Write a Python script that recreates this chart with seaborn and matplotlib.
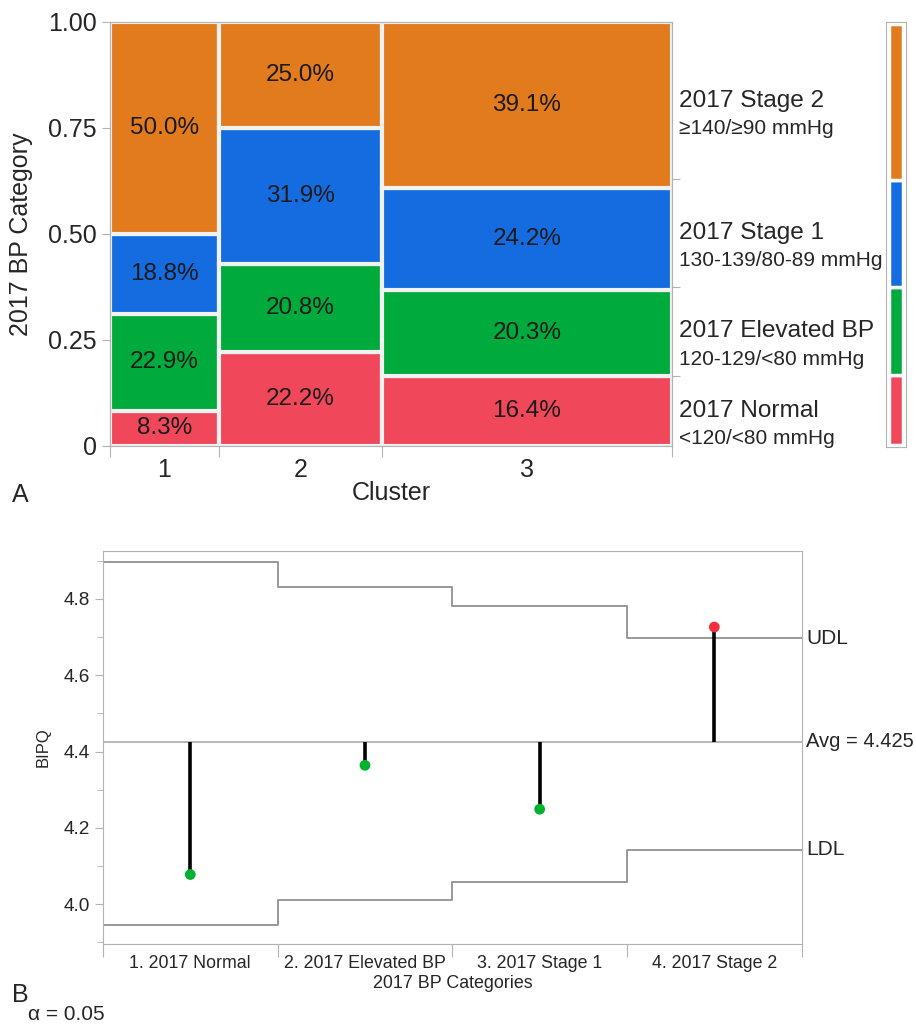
import numpy as np
import pandas as pd
import seaborn as sns
import matplotlib.pyplot as plt
from matplotlib.ticker import MultipleLocator

# ---- Panel A data: mosaic of BP category by cluster ----
clusters = ['1', '2', '3']
cluster_n = [48, 72, 128]
categories = ['2017 Normal', '2017 Elevated BP', '2017 Stage 1', '2017 Stage 2']
cat_ranges = ['<120/<80 mmHg', '120-129/<80 mmHg', '130-139/80-89 mmHg', '≥140/≥90 mmHg']
pct_normal = [8.3, 22.2, 16.4]
pct_elevated = [22.9, 20.8, 20.3]
pct_stage1 = [18.8, 31.9, 24.2]
pct_stage2 = [50.0, 25.0, 39.1]
cat_colors = ['#F0485A', '#00AA3C', '#156CE0', '#E27A1E']

# ---- Panel B data: analysis of means for BIPQ ----
bp_labels = ['1. 2017 Normal', '2. 2017 Elevated BP', '3. 2017 Stage 1', '4. 2017 Stage 2']
bipq_mean = [4.078, 4.364, 4.249, 4.726]
udl = [4.895, 4.830, 4.781, 4.696]
ldl = [3.945, 4.010, 4.059, 4.143]
bipq_avg = 4.425

sns.set_style('ticks')
plt.rcParams['font.family'] = ['Liberation Sans', 'DejaVu Sans']
gray = '#b3b3b3'

fig = plt.figure(figsize=(9.16, 10.25), dpi=100)

# ---------------- Panel A ----------------
ax = fig.add_axes([0.1201, 0.5649, 0.6135, 0.4139])
pcts = [pct_normal, pct_elevated, pct_stage1, pct_stage2]
n = np.array(cluster_n, dtype=float)
widths = n / n.sum()
lefts = np.concatenate([[0], np.cumsum(widths)[:-1]])
for i in range(len(clusters)):
    bottom = 0.0
    for j in range(len(categories)):
        h = pcts[j][i] / 100
        ax.bar(lefts[i], h, width=widths[i], bottom=bottom, align='edge',
               color=cat_colors[j], edgecolor='#f2f2f2', linewidth=3)
        ax.text(lefts[i] + widths[i] / 2, bottom + h / 2, f'{pcts[j][i]:.1f}%',
                ha='center', va='center', fontsize=17.5, color='#1a1a1a')
        bottom += h

ax.set_xlim(0, 1)
ax.set_ylim(0, 1)
ax.set_xticks(np.concatenate([lefts, [1]]))
ax.set_xticklabels([])
ax.set_xticks(lefts + widths / 2, minor=True)
ax.set_xticklabels(clusters, minor=True)
ax.tick_params(axis='x', which='major', length=8, color=gray)
ax.tick_params(axis='x', which='minor', length=0, labelsize=18, pad=9)
ax.set_yticks([0, 0.25, 0.5, 0.75, 1.0])
ax.set_yticklabels(['0', '0.25', '0.50', '0.75', '1.00'])
ax.tick_params(axis='y', length=6, color=gray, labelsize=18)
ax.set_xlabel('Cluster', fontsize=18)
ax.set_ylabel('2017 BP Category', fontsize=18)
ax.xaxis.set_label_coords(0.5, -0.082)
ax.yaxis.set_label_coords(-0.137, 0.5)
for s in ax.spines.values():
    s.set_color(gray)

# overall shares for right-hand ticks and legend bar
overall = np.array([np.sum(np.array(p) / 100 * n) for p in pcts]) / n.sum()
cum = np.cumsum(overall)
ax2 = ax.twinx()
ax2.set_ylim(0, 1)
ax2.set_yticks(cum[:-1])
ax2.set_yticklabels([])
ax2.tick_params(axis='y', length=6, color=gray)
for s in ax2.spines.values():
    s.set_color(gray)
starts = np.concatenate([[0], cum[:-1]])
for j in range(len(categories)):
    mid = starts[j] + overall[j] / 2
    ax.annotate(categories[j], xy=(1.012, mid), xycoords=('axes fraction', 'data'),
                ha='left', va='center', fontsize=17.6, annotation_clip=False)
    ax.annotate(cat_ranges[j], xy=(1.012, mid), xycoords=('axes fraction', 'data'),
                xytext=(0, -20), textcoords='offset points',
                ha='left', va='center', fontsize=15, annotation_clip=False)

# legend color bar
lax = fig.add_axes([886 / 916, 1 - 447 / 1025, 20 / 916, 425 / 1025])
b = 0.0
for j in range(len(categories)):
    lax.bar(0.5, overall[j], width=0.7, bottom=b, color=cat_colors[j],
            edgecolor='white', linewidth=2.5)
    b += overall[j]
lax.set_xlim(0, 1)
lax.set_ylim(-0.005, 1.005)
lax.set_xticks([])
lax.set_yticks([])
for s in lax.spines.values():
    s.set_color(gray)

fig.text(12 / 916, 1 - 495 / 1025, 'A', fontsize=18, va='center', ha='left')

# ---------------- Panel B ----------------
bx = fig.add_axes([0.1124, 0.079, 0.7628, 0.3834])
xs = np.arange(len(bp_labels))
edges = np.arange(len(bp_labels) + 1) - 0.5
lim_df = pd.DataFrame({'x': edges,
                       'udl': udl + [udl[-1]],
                       'ldl': ldl + [ldl[-1]]})
sns.lineplot(data=lim_df, x='x', y='udl', ax=bx, color='#999999', lw=1.4,
             drawstyle='steps-post')
sns.lineplot(data=lim_df, x='x', y='ldl', ax=bx, color='#999999', lw=1.4,
             drawstyle='steps-post')
bx.axhline(bipq_avg, color='#b8b8b8', lw=1.4)
bx.vlines(xs, bipq_avg, bipq_mean, color='black', lw=2.6, zorder=3)
pt_df = pd.DataFrame({'x': xs, 'mean': bipq_mean,
                      'status': ['out' if (m > u or m < l) else 'in'
                                 for m, u, l in zip(bipq_mean, udl, ldl)]})
sns.scatterplot(data=pt_df, x='x', y='mean', hue='status',
                palette={'in': '#00B22D', 'out': '#F0303F'}, s=60,
                edgecolor='none', legend=False, ax=bx, zorder=4)

bx.set_xlim(-0.5, 3.5)
bx.set_ylim(3.896, 4.925)
bx.set_xticks(edges)
bx.set_xticklabels([])
bx.set_xticks(xs, minor=True)
bx.set_xticklabels(bp_labels, minor=True)
bx.tick_params(axis='x', which='major', length=9, color=gray)
bx.tick_params(axis='x', which='minor', length=0, labelsize=12.8, pad=8)
bx.yaxis.set_major_locator(MultipleLocator(0.2))
bx.yaxis.set_minor_locator(MultipleLocator(0.1))
bx.set_yticks([4.0, 4.2, 4.4, 4.6, 4.8])
bx.set_yticklabels(['4.0', '4.2', '4.4', '4.6', '4.8'])
bx.tick_params(axis='y', which='major', length=6, color=gray, labelsize=13.7)
bx.tick_params(axis='y', which='minor', length=4, color=gray)
bx.set_xlabel('2017 BP Categories', fontsize=12.9)
bx.set_ylabel('BIPQ', fontsize=12)
bx.xaxis.set_label_coords(0.5, -0.08)
bx.yaxis.set_label_coords(-0.075, 0.5)
for s in bx.spines.values():
    s.set_color(gray)

bx.annotate('UDL', xy=(1.006, udl[-1]), xycoords=('axes fraction', 'data'),
            ha='left', va='center', fontsize=15, annotation_clip=False)
bx.annotate(f'Avg = {bipq_avg}', xy=(1.006, bipq_avg), xycoords=('axes fraction', 'data'),
            ha='left', va='center', fontsize=14.5, annotation_clip=False)
bx.annotate('LDL', xy=(1.006, ldl[-1]), xycoords=('axes fraction', 'data'),
            ha='left', va='center', fontsize=15, annotation_clip=False)

fig.text(12 / 916, 1 - 995 / 1025, 'B', fontsize=18, va='center', ha='left')
fig.text(28 / 916, 1 - 1015 / 1025, 'α = 0.05', fontsize=15, va='center', ha='left')

fig.savefig('out.png', dpi=100)
